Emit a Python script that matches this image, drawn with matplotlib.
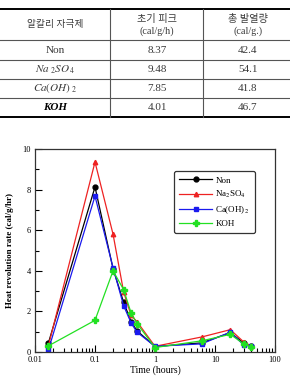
import matplotlib
matplotlib.use("Agg")
import matplotlib.pyplot as plt
from matplotlib.lines import Line2D
from matplotlib.ticker import LogLocator, MultipleLocator, FixedLocator, FixedFormatter

plt.rcParams['font.family'] = ['Liberation Serif', 'Noto Sans CJK KR', 'DejaVu Sans']
plt.rcParams['mathtext.fontset'] = 'stix'

# ---- table data ----
table_header = ["알칼리 자극제", "초기 피크\n(cal/g/h)", "총 발열량\n(cal/g.)"]
table_rows = [r"Non", r"$Na_{\ 2}SO_{\ 4}$", r"$Ca(OH)_{\ 2}$", r"KOH"]
initial_peak = ["8.37", "9.48", "7.85", "4.01"]
total_heat = ["42.4", "54.1", "41.8", "46.7"]

# ---- chart data ----
time_h = [0.0167, 0.1, 0.2, 0.3, 0.4, 0.5, 1.0, 6.0, 18.0, 30.0, 40.0]
non = [0.44, 8.13, 4.10, 2.45, 1.50, 1.05, 0.27, 0.45, 0.95, 0.45, 0.28]
na2so4 = [0.30, 9.36, 5.80, 2.96, 1.80, 1.50, 0.28, 0.74, 1.10, 0.50, 0.30]
caoh2 = [0.10, 7.68, 4.15, 2.28, 1.43, 0.98, 0.28, 0.40, 0.98, 0.35, 0.28]
koh = [0.30, 1.56, 4.00, 3.07, 1.92, 1.40, 0.22, 0.55, 0.87, 0.40, 0.25]
series_labels = ["Non", r"Na$_2$SO$_4$", r"Ca(OH)$_2$", "KOH"]

W, H = 290, 376
fig = plt.figure(figsize=(W / 100, H / 100), dpi=100)

# ---- table drawn in pixel coordinates ----
tax = fig.add_axes([0, 0, 1, 1])
tax.set_xlim(0, W)
tax.set_ylim(H, 0)
tax.axis('off')

tc = '#3a3a3a'
tax.add_line(Line2D([0, 290], [9, 9], color='black', lw=1.4))
tax.add_line(Line2D([0, 290], [117, 117], color='black', lw=1.4))
for yy in [40, 60, 79, 98]:
    tax.add_line(Line2D([0, 290], [yy, yy], color='#555555', lw=0.8))
for xx in [110, 203]:
    tax.add_line(Line2D([xx, xx], [9, 117], color='#555555', lw=0.8))

col_x = [55, 157, 248]
tax.text(col_x[0], 25, table_header[0], ha='center', va='center', fontsize=7, color=tc)
tax.text(col_x[1], 25, table_header[1], ha='center', va='center', fontsize=7.3, color=tc,
         linespacing=1.3)
tax.text(col_x[2], 25, table_header[2], ha='center', va='center', fontsize=7.3, color=tc,
         linespacing=1.3)
row_y = [50.5, 69.5, 88.5, 107.5]
for i, (lab, p, t) in enumerate(zip(table_rows, initial_peak, total_heat)):
    if lab == "KOH":
        tax.text(col_x[0], row_y[i], lab, ha='center', va='center', fontsize=8,
                 color='black', fontstyle='italic', fontweight='bold')
    else:
        tax.text(col_x[0], row_y[i], lab, ha='center', va='center', fontsize=8, color=tc)
    tax.text(col_x[1], row_y[i], p, ha='center', va='center', fontsize=8, color=tc)
    tax.text(col_x[2], row_y[i], t, ha='center', va='center', fontsize=8, color=tc)

# ---- chart ----
left, right, top, bottom = 35, 275, 149, 352
ax = fig.add_axes([left / W, (H - bottom) / H, (right - left) / W, (bottom - top) / H])
ax.plot(time_h, non, color='black', marker='o', ms=3.5, lw=0.9, label=series_labels[0])
ax.plot(time_h, na2so4, color='#ee2222', marker='^', ms=3.2, lw=0.9, label=series_labels[1])
ax.plot(time_h, caoh2, color='#1a1aee', marker='s', ms=3.5, lw=0.9, label=series_labels[2])
ax.plot(time_h, koh, color='#22e022', marker='P', ms=4, lw=0.9, label=series_labels[3])

ax.set_xscale('log')
ax.set_xlim(0.01, 100)
ax.set_ylim(0, 10)
ax.xaxis.set_major_locator(FixedLocator([0.01, 0.1, 1, 10, 100]))
ax.xaxis.set_major_formatter(FixedFormatter(["0.01", "0.1", "1", "10", "100"]))
ax.xaxis.set_minor_locator(LogLocator(base=10, subs=range(2, 10)))
ax.yaxis.set_major_locator(MultipleLocator(2))
ax.yaxis.set_minor_locator(MultipleLocator(1))
ax.tick_params(which='both', direction='in', labelsize=6, width=0.8, pad=3)
ax.tick_params(which='major', length=5)
ax.tick_params(which='minor', length=3)
for s in ax.spines.values():
    s.set_linewidth(0.9)
    s.set_color('#333333')

ax.set_xlabel("Time (hours)", fontsize=7, labelpad=1)
ax.set_ylabel("Heat revolution rate (cal/g/hr)", fontsize=6.5, fontweight='bold', labelpad=6)

leg = ax.legend(loc='upper right', bbox_to_anchor=(0.915, 0.89), borderaxespad=0,
                fontsize=6.5, frameon=True, fancybox=True, edgecolor='#333333',
                framealpha=1, handlelength=3.6, borderpad=0.55, labelspacing=0.45,
                handletextpad=0.4)
leg.get_frame().set_linewidth(0.9)

fig.savefig("out.png", dpi=100)
